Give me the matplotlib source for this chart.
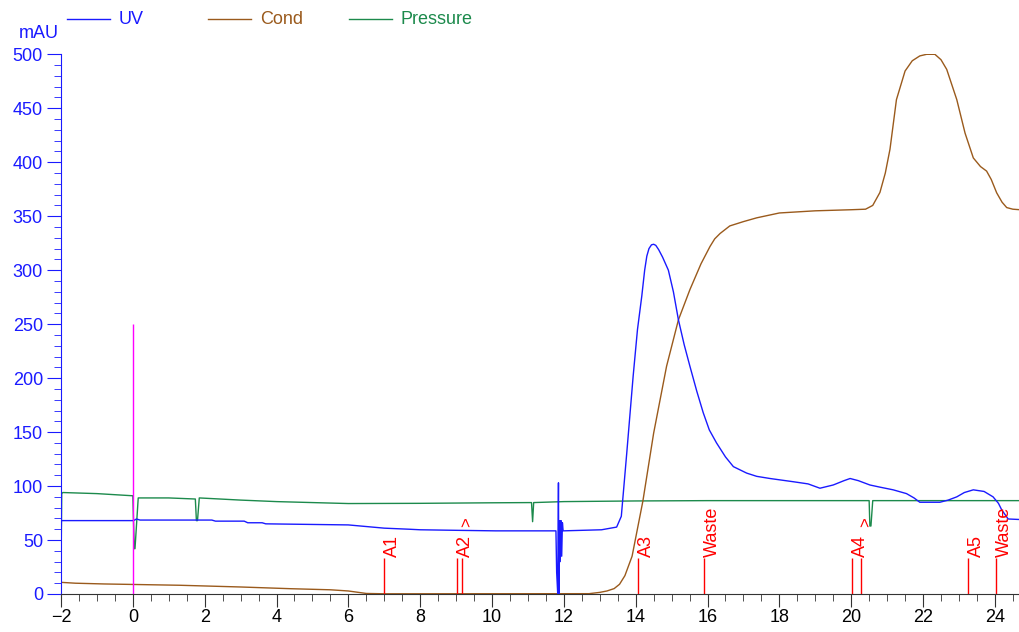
import numpy as np
import matplotlib.pyplot as plt
from matplotlib.lines import Line2D

plt.rcParams['font.family'] = ['Liberation Sans', 'DejaVu Sans']

# UV trace (mAU)
uv_t = [-2.0, -1.99, -1.98, 0.0, 0.05, 0.1, 0.2, 2.2, 2.3, 3.1, 3.2, 3.6, 3.7, 6.0, 6.5,
        7.0, 7.7, 8.0, 9.0, 10.1, 11.78, 11.80, 11.83, 11.85, 11.86, 11.88, 11.90, 11.92,
        11.94, 11.96, 11.98, 13.05, 13.47, 13.6, 13.75, 13.93, 14.05, 14.17, 14.25, 14.31,
        14.37, 14.44, 14.5, 14.56, 14.64, 14.75, 14.91, 15.05, 15.19, 15.35, 15.51, 15.7,
        15.88, 16.05, 16.25, 16.5, 16.72, 17.09, 17.37, 17.74, 18.39, 18.8, 19.13, 19.5,
        19.8, 19.97, 20.2, 20.52, 20.8, 21.17, 21.54, 21.75, 21.91, 22.47, 22.7, 22.94,
        23.15, 23.4, 23.7, 23.95, 24.1, 24.19, 24.37, 24.7]
uv_v = [20, 68, 68, 68, 68.5, 69.5, 68.5, 68.5, 67.5, 67.5, 66, 66, 65, 64, 62.5,
        61, 60, 59.5, 59, 58.5, 58.5, 20, 0, 103, 0, 68, 30, 68,
        35, 66, 58.5, 59.5, 62, 72, 130, 202, 245, 276, 300, 313,
        320, 323.5, 324, 323, 319, 312, 300, 280, 254, 231, 211, 188,
        168, 152, 140, 127, 118, 112, 109, 107, 104, 102, 98, 101,
        105, 107, 105, 101, 99, 96.5, 93, 89, 85, 85, 87, 90,
        94, 96.5, 95, 90, 84, 78, 69.5, 69]

# Conductivity trace
cond_t = [-2.0, -1.6, -0.8, 1.3, 3.0, 4.4, 5.5, 6.0, 6.5, 7.0, 12.7, 13.0, 13.2, 13.4,
          13.55, 13.7, 13.9, 14.0, 14.2, 14.5, 14.86, 15.19, 15.51, 15.82, 16.07, 16.2,
          16.35, 16.62, 17.0, 17.37, 18.0, 19.0, 20.0, 20.4, 20.6, 20.8, 20.95, 21.08,
          21.26, 21.5, 21.7, 21.91, 22.1, 22.33, 22.5, 22.66, 22.94, 23.17, 23.4, 23.6,
          23.77, 23.9, 24.05, 24.2, 24.33, 24.5, 24.7]
cond_v = [10.8, 10, 9.3, 8.1, 6.5, 4.9, 3.9, 2.8, 0.5, 0.2, 0.3, 1.5, 2.8, 5,
          9, 17, 35, 52, 86, 149, 211, 254, 282, 306, 322, 329,
          334, 341, 345, 348.5, 353, 355, 356, 356.5, 360, 372, 390, 412,
          458, 484.5, 494, 498.5, 500, 500, 495, 486, 458, 427, 404, 396,
          391.8, 384, 371.7, 363, 358, 356.5, 356]

# Pressure trace
pres_t = [-2.0, -1.98, -1.95, -1.0, 0.0, 0.04, 0.06, 0.15, 1.0, 1.74, 1.77, 1.8, 1.85,
          3.0, 4.0, 6.0, 8.0, 10.0, 11.1, 11.13, 11.16, 12.0, 14.0, 16.0, 20.5, 20.52,
          20.55, 20.6, 22.0, 24.7]
pres_v = [20, 93, 94, 93, 91, 42, 42, 89, 89, 88, 68, 68, 89,
          87, 85.6, 83.8, 84, 84.5, 84.7, 67, 84.7, 85.6, 86.2, 86.5, 86.5, 63,
          63, 86.5, 86.5, 86.5]

# fraction marks
frac_x = [7.0, 9.02, 9.16, 14.07, 15.9, 20.03, 20.28, 23.26, 24.02]
frac_lbl_x = [7.0, 9.02, 14.07, 15.9, 20.03, 23.26, 24.02]
frac_lbl = ['A1', 'A2', 'A3', 'Waste', 'A4', 'A5', 'Waste']
arrow_x = [9.29, 20.41]

inject_x = 0.0

uv_col = '#1a1aff'
cond_col = '#9a5a1c'
pres_col = '#1c8a4c'

fig = plt.figure(figsize=(10.2, 6.32), dpi=100)
ax = fig.add_axes([61 / 1020, 38 / 632, 1 - 61 / 1020, (594 - 54.3) / 632])

ax.plot(pres_t, pres_v, color=pres_col, lw=1.0)
ax.plot(cond_t, cond_v, color=cond_col, lw=1.0)
ax.plot(uv_t, uv_v, color=uv_col, lw=1.0)
ax.vlines(inject_x, 0, 250, color='#ff00ff', lw=1.0)

ax.vlines(frac_x, 0, 33, color='red', lw=1.0)
for x, s in zip(frac_lbl_x, frac_lbl):
    ax.text(x, 34, s, rotation=90, ha='left', va='bottom', color='red', fontsize=13)
for x in arrow_x:
    ax.text(x, 62, '>', rotation=90, ha='center', va='bottom', color='red', fontsize=12)

ax.set_xlim(-2, 24.7)
ax.set_ylim(0, 500)
ax.set_xticks(np.arange(-2, 25, 2))
ax.set_xticks(np.arange(-2, 24.7, 0.5), minor=True)
ax.set_yticks(np.arange(0, 501, 50))
ax.set_yticks(np.arange(0, 501, 10), minor=True)

for s in ['top', 'right']:
    ax.spines[s].set_visible(False)
ax.spines['left'].set_color(uv_col)
ax.spines['bottom'].set_color('#333333')
ax.tick_params(axis='y', which='both', colors=uv_col, labelsize=13, pad=3)
ax.tick_params(axis='y', which='major', length=10)
ax.tick_params(axis='y', which='minor', length=5)
ax.tick_params(axis='x', which='both', colors='#333333', labelsize=13, pad=2)
ax.tick_params(axis='x', which='major', length=9)
ax.tick_params(axis='x', which='minor', length=5)
ax.tick_params(axis='x', labelcolor='black')

fig.text(59 / 1020, 1 - 33 / 632, 'mAU', color=uv_col, ha='right', va='center', fontsize=13)

# legend across the top
for (x0, x1, tx), lab, col in zip([(67, 110, 119), (208, 251, 260), (349, 392, 401)],
                                  ['UV', 'Cond', 'Pressure'], [uv_col, cond_col, pres_col]):
    fig.add_artist(Line2D([x0 / 1020, x1 / 1020], [1 - 19 / 632] * 2, color=col, lw=1.0))
    fig.text(tx / 1020, 1 - 19 / 632, lab, color=col, ha='left', va='center', fontsize=13)

plt.savefig('out.png')
